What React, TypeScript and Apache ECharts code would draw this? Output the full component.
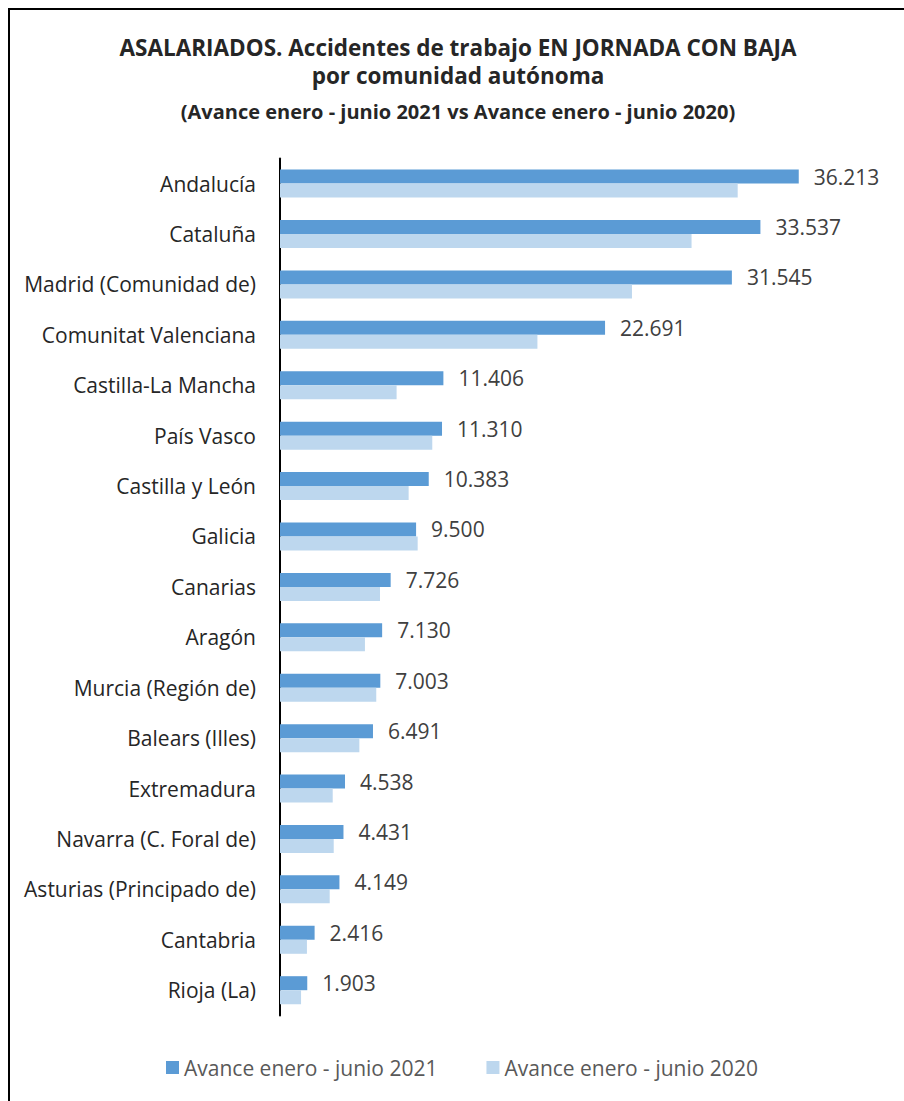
import React, { useEffect, useRef } from "react";
import * as echarts from "echarts";

const categories = [
  "Andalucía",
  "Cataluña",
  "Madrid (Comunidad de)",
  "Comunitat Valenciana",
  "Castilla-La Mancha",
  "País Vasco",
  "Castilla y León",
  "Galicia",
  "Canarias",
  "Aragón",
  "Murcia (Región de)",
  "Balears (Illes)",
  "Extremadura",
  "Navarra (C. Foral de)",
  "Asturias (Principado de)",
  "Cantabria",
  "Rioja (La)",
];

const values2021 = [36213, 33537, 31545, 22691, 11406, 11310, 10383, 9500, 7726, 7130, 7003, 6491, 4538, 4431, 4149, 2416, 1903];
const values2020 = [31950, 28730, 24570, 17970, 8140, 10630, 8980, 9610, 6980, 5930, 6720, 5540, 3680, 3750, 3470, 1880, 1470];

const seriesNames = ["Avance enero - junio 2021", "Avance enero - junio 2020"];
const titleLines = [
  "ASALARIADOS. Accidentes de trabajo EN JORNADA CON BAJA",
  "por comunidad autónoma",
  "(Avance enero - junio 2021 vs Avance enero - junio 2020)",
];

const FONT = "'Open Sans', sans-serif";

const fmt = (v: number) => String(v).replace(/\B(?=(\d{3})+(?!\d))/g, ".");

export default function App() {
  const ref = useRef<HTMLDivElement>(null);
  useEffect(() => {
    if (!ref.current) return;
    const chart = echarts.init(ref.current, undefined, { renderer: "svg" });
    chart.setOption({
      animation: false,
      backgroundColor: "#ffffff",
      textStyle: { fontFamily: FONT },
      graphic: [
        {
          type: "rect",
          shape: { x: 9, y: 9, width: 1000, height: 1200 },
          style: { fill: "none", stroke: "#000000", lineWidth: 2 },
          silent: true,
        },
        {
          type: "text",
          x: 458,
          y: 47,
          style: { text: titleLines[0], font: `bold 22.5px ${FONT}`, fill: "#262626", textAlign: "center", textVerticalAlign: "middle" },
        },
        {
          type: "text",
          x: 458,
          y: 75,
          style: { text: titleLines[1], font: `bold 22.5px ${FONT}`, fill: "#262626", textAlign: "center", textVerticalAlign: "middle" },
        },
        {
          type: "text",
          x: 458,
          y: 111,
          style: { text: titleLines[2], font: `bold 20px ${FONT}`, fill: "#262626", textAlign: "center", textVerticalAlign: "middle" },
        },
      ],
      legend: {
        left: 166,
        top: 1057,
        padding: 0,
        itemWidth: 13,
        itemHeight: 13,
        itemGap: 49,
        icon: "rect",
        textStyle: { fontSize: 21, color: "#595959", fontFamily: FONT, padding: [0, 0, 0, 0] },
        data: seriesNames,
      },
      grid: { left: 280, top: 158.4, height: 857, width: 573, containLabel: false },
      xAxis: {
        type: "value",
        min: 0,
        max: 40000,
        show: false,
        splitLine: { show: false },
      },
      yAxis: {
        type: "category",
        data: categories,
        inverse: true,
        axisLine: { show: true, lineStyle: { color: "#000000", width: 2 } },
        axisTick: { show: false },
        axisLabel: { fontSize: 21, color: "#262626", margin: 24, fontFamily: FONT },
      },
      series: [
        {
          name: seriesNames[0],
          type: "bar",
          data: values2021,
          barWidth: 14,
          barGap: "0%",
          itemStyle: { color: "#5B9BD5" },
          label: {
            show: true,
            position: "right",
            distance: 15,
            fontSize: 21,
            color: "#404040",
            fontFamily: FONT,
            formatter: (p: any) => fmt(p.value),
          },
        },
        {
          name: seriesNames[1],
          type: "bar",
          data: values2020,
          barWidth: 14,
          barGap: "0%",
          itemStyle: { color: "#BDD7EE" },
        },
      ],
    });
    return () => chart.dispose();
  }, []);
  return (
    <div
      ref={ref}
      style={{ position: "fixed", left: 0, top: 0, width: 904, height: 1101, overflow: "hidden" }}
    />
  );
}
